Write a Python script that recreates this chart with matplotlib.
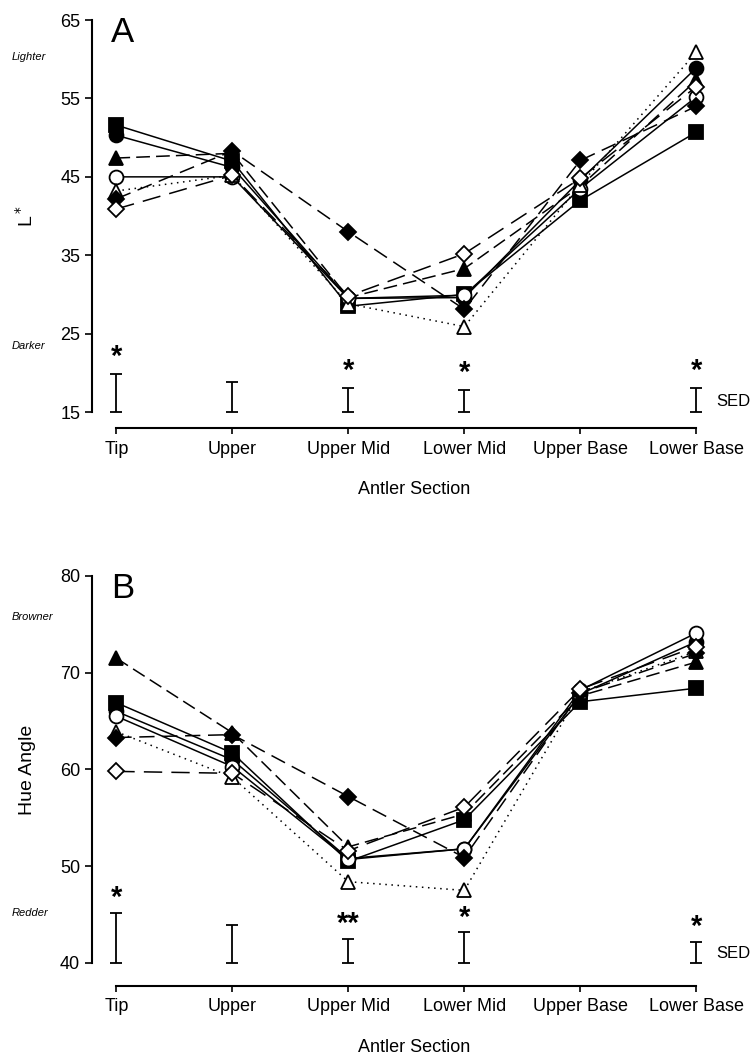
import matplotlib
matplotlib.use("Agg")
import matplotlib.pyplot as plt

plt.rcParams["font.family"] = ["Liberation Sans", "DejaVu Sans"]

sections = ["Tip", "Upper", "Upper Mid", "Lower Mid", "Upper Base", "Lower Base"]
xpos = list(range(len(sections)))

# panel A: L* values per group
a_sq_filled = [51.6, 47.0, 28.5, 30.0, 42.0, 50.7]
a_ci_filled = [50.3, 46.2, 29.5, 29.6, 44.6, 58.9]
a_tr_filled = [47.4, 48.0, 29.6, 33.3, 43.8, 57.3]
a_ci_open = [45.0, 45.0, 29.5, 29.9, 43.5, 55.2]
a_tr_open = [43.2, 45.2, 28.8, 25.9, 44.0, 60.9]
a_di_filled = [42.2, 48.3, 38.0, 28.1, 47.1, 54.0]
a_di_open = [40.9, 45.2, 29.8, 35.2, 44.8, 56.5]
a_sed = [4.8, 3.8, 3.1, 2.8, None, 3.1]
a_stars = ["*", "", "*", "*", "", "*"]

# panel B: hue angle per group
b_sq_filled = [66.9, 61.7, 50.5, 54.8, 67.0, 68.4]
b_ci_filled = [66.0, 61.0, 50.8, 51.8, 67.8, 73.2]
b_tr_filled = [71.5, 63.8, 52.0, 55.4, 67.6, 71.1]
b_ci_open = [65.5, 60.3, 50.7, 51.8, 68.2, 74.1]
b_tr_open = [63.9, 59.2, 48.4, 47.5, 68.0, 72.2]
b_di_filled = [63.3, 63.6, 57.2, 50.9, 67.9, 72.0]
b_di_open = [59.8, 59.6, 51.6, 56.1, 68.3, 72.7]
b_sed = [5.2, 3.9, 2.5, 3.2, None, 2.2]
b_stars = ["*", "", "**", "*", "", "*"]

styles = [
    ("s", "black", "-"),
    ("o", "black", "-"),
    ("^", "black", (0, (9, 4))),
    ("o", "white", "-"),
    ("^", "white", (0, (1, 3))),
    ("D", "black", (0, (10, 5))),
    ("D", "white", (0, (12, 6))),
]

fig = plt.figure(figsize=(7.56, 10.56), dpi=100)
axA = fig.add_axes([0.1217, 0.6098, 0.853, 0.3712])
axB = fig.add_axes([0.1217, 0.0881, 0.853, 0.3665])


def draw_panel(ax, series, sed, stars, base, ylim, yticks, ylabel, letter,
               top_word, bottom_word, top_y, bottom_y, star_off, outward):
    for vals, (mk, fc, ls) in zip(series, styles):
        ms = 8.5 if mk == "D" else 10
        ax.plot(xpos, vals, color="black", linestyle=ls, linewidth=1.1,
                marker=mk, markersize=ms, markerfacecolor=fc,
                markeredgecolor="black", markeredgewidth=1.3, clip_on=False)
    for x, h, st in zip(xpos, sed, stars):
        if h is None:
            continue
        ax.errorbar([x], [base], yerr=[[0], [h]], fmt="none", ecolor="black",
                    elinewidth=1.3, capsize=4, capthick=1.3, clip_on=False)
        if st:
            ax.text(x, base + h + star_off, st, ha="center", va="center",
                    fontsize=21, fontweight="bold")
    ax.text(5.17, base + sed[5] * 0.45, "SED", ha="left", va="center",
            fontsize=12, clip_on=False)
    ax.set_xlim(-0.21, 5.35)
    ax.set_ylim(*ylim)
    ax.set_yticks(yticks)
    ax.set_xticks(xpos)
    ax.set_xticklabels(sections)
    ax.tick_params(axis="y", labelsize=13, direction="out", length=5, width=1.2)
    ax.tick_params(axis="x", labelsize=13, direction="out", length=4,
                   width=1.2, pad=5)
    for s in ["top", "right"]:
        ax.spines[s].set_visible(False)
    ax.spines["left"].set_linewidth(1.5)
    ax.spines["bottom"].set_linewidth(1.5)
    ax.spines["bottom"].set_position(("outward", outward))
    ax.spines["bottom"].set_bounds(0, 5)
    ax.set_xlabel("Antler Section", fontsize=13, labelpad=17)
    ax.set_ylabel(ylabel, fontsize=14, labelpad=17)
    ax.text(0.03, 1.01, letter, transform=ax.transAxes, fontsize=25,
            ha="left", va="top")
    fig.text(0.016, top_y, top_word, fontsize=8, style="italic",
             ha="left", va="center")
    fig.text(0.016, bottom_y, bottom_word, fontsize=8, style="italic",
             ha="left", va="center")


draw_panel(axA, [a_sq_filled, a_ci_filled, a_tr_filled, a_ci_open, a_tr_open,
                 a_di_filled, a_di_open],
           a_sed, a_stars, 15, (15, 65), [15, 25, 35, 45, 55, 65], "L$^*$", "A",
           "Lighter", "Darker", 1 - 57 / 1056, 1 - 346 / 1056, 2.2, 11.5)
draw_panel(axB, [b_sq_filled, b_ci_filled, b_tr_filled, b_ci_open, b_tr_open,
                 b_di_filled, b_di_open],
           b_sed, b_stars, 40, (40, 80), [40, 50, 60, 70, 80], "Hue Angle", "B",
           "Browner", "Redder", 1 - 617 / 1056, 1 - 913 / 1056, 1.5, 16.5)

fig.savefig("out.png", dpi=100)
